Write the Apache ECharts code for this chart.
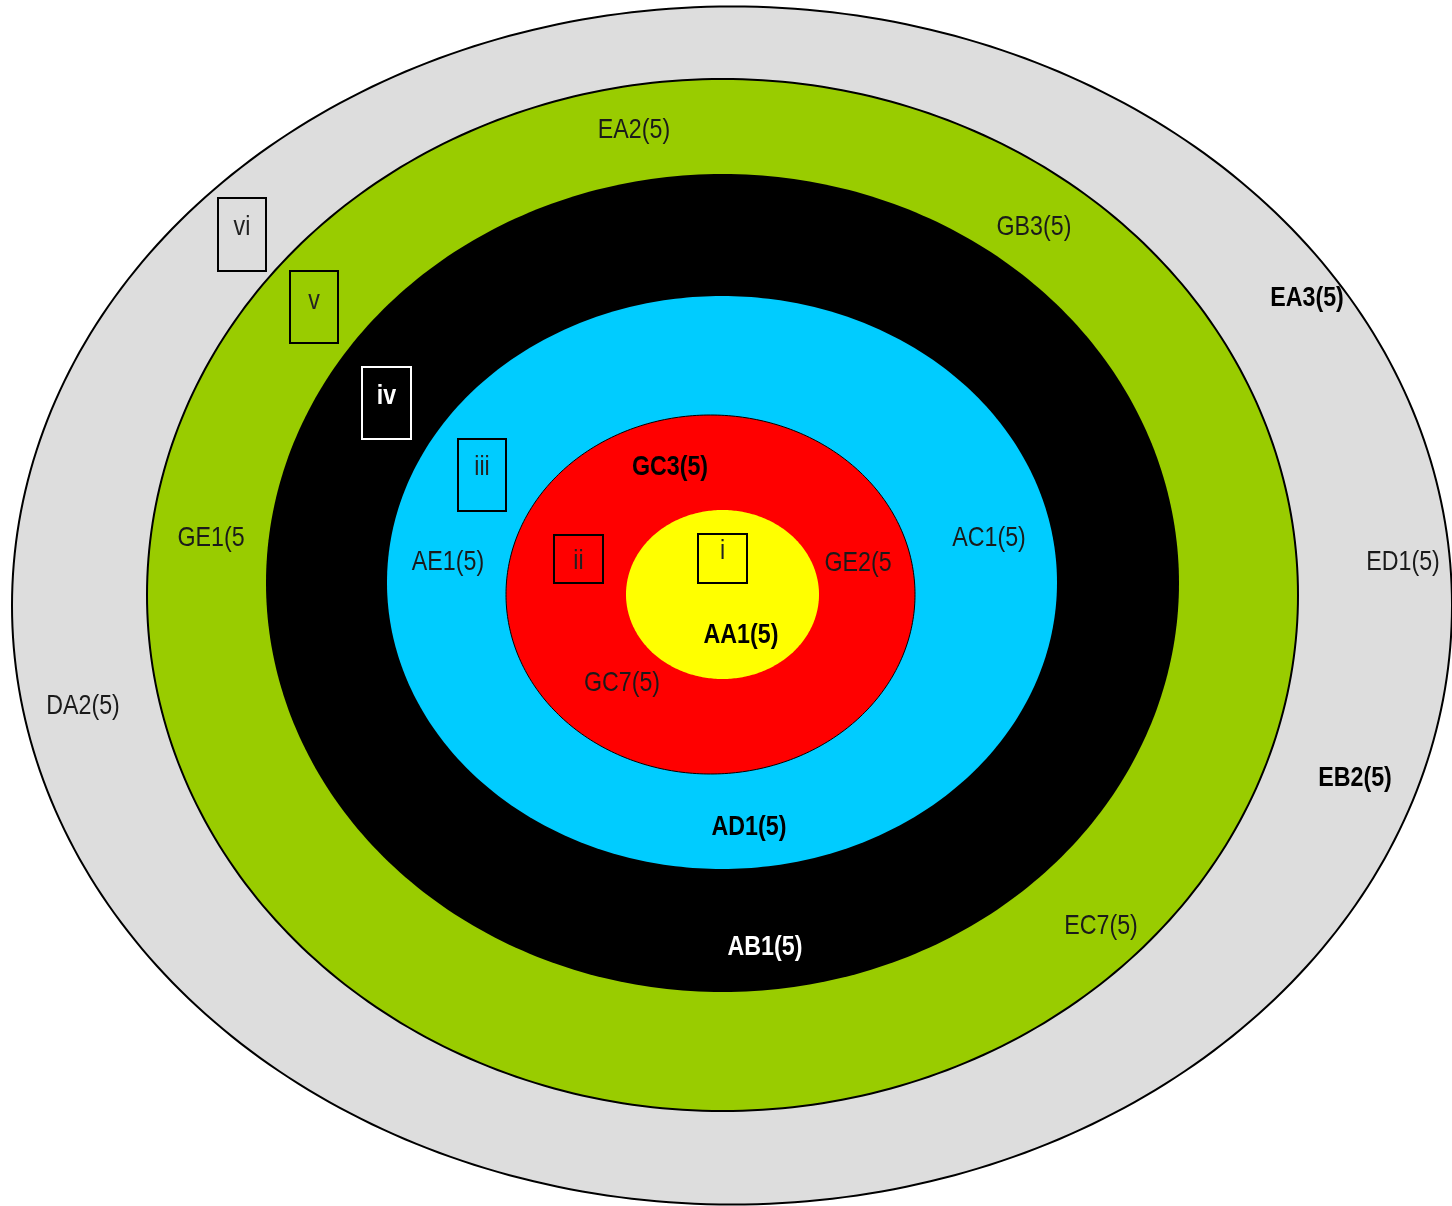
<!DOCTYPE html>
<html>
<head>
<meta charset="utf-8">
<script src="https://cdn.jsdelivr.net/npm/echarts@6/dist/echarts.min.js"></script>
<style>
  html, body { margin: 0; padding: 0; background: #fff; }
  #main { width: 1452px; height: 1206px; }
</style>
</head>
<body>
<div id="main"></div>
<script>
// rings, outermost first: centre and half-axes in page units
const ringNames = ['grey', 'green', 'black', 'blue', 'red', 'yellow'];
const ringCx = [732, 722.5, 722.5, 722, 710.5, 722.5];
const ringCy = [605.5, 595, 583, 582.5, 594.5, 594.5];
const ringRx = [720, 575.5, 456.5, 335, 204.5, 96.5];
const ringRy = [599, 516, 409, 286.5, 179.5, 84.5];
const ringFill = ['#dddddd', '#99cc00', '#000000', '#00ccff', '#ff0000', '#ffff00'];
const ringLine = [2, 2, 0, 0, 1, 0];

// ring labels
const labelText = ['EA2(5)', 'GB3(5)', 'EA3(5)', 'ED1(5)', 'EB2(5)', 'EC7(5)', 'GE1(5', 'DA2(5)',
    'AE1(5)', 'AC1(5)', 'GC3(5)', 'GE2(5', 'AA1(5)', 'GC7(5)', 'AD1(5)', 'AB1(5)'];
const labelX = [634, 1034, 1307, 1403, 1355, 1101, 211, 83, 448, 989, 670, 858, 741, 622, 749, 765];
const labelY = [130, 227, 298, 562, 778, 926, 538, 706, 562, 538, 467, 563, 635, 683, 827, 947];
const labelBold = [0, 0, 1, 0, 1, 0, 0, 0, 0, 0, 1, 0, 1, 0, 1, 1];
const labelWhite = [0, 0, 0, 0, 0, 0, 0, 0, 0, 0, 0, 0, 0, 0, 0, 1];

// numbered boxes i..vi
const boxText = ['i', 'ii', 'iii', 'iv', 'v', 'vi'];
const boxX1 = [698, 554, 458, 362, 290, 218];
const boxY1 = [534, 535, 439, 367, 271, 198];
const boxX2 = [747, 603, 506, 411, 338, 266];
const boxY2 = [583, 583, 511, 439, 343, 271];
const boxTextY = [551, 561, 467, 396, 301, 227];
const boxWhite = [0, 0, 0, 1, 0, 0];

const FONT = "'Liberation Sans', Arial, sans-serif";
const NARROW = 0.83;

var myChart = echarts.init(document.getElementById('main'));

function renderRing(params, api) {
    const i = params.dataIndex;
    const cx = api.value(0), cy = api.value(1), rx = api.value(2), ry = api.value(3);
    const pts = [];
    for (let k = 0; k < 360; k++) {
        const a = k * Math.PI / 180;
        pts.push(api.coord([cx + rx * Math.cos(a), cy + ry * Math.sin(a)]));
    }
    return {
        type: 'polygon',
        shape: { points: pts },
        style: {
            fill: ringFill[i],
            stroke: ringLine[i] ? '#000' : null,
            lineWidth: ringLine[i]
        }
    };
}

function narrowText(pos, text, bold, color) {
    return {
        type: 'text',
        x: pos[0],
        y: pos[1],
        scaleX: NARROW,
        style: {
            text: text,
            fill: color,
            font: (bold ? 'bold ' : '') + '28px ' + FONT,
            align: 'center',
            verticalAlign: 'middle'
        }
    };
}

function renderBox(params, api) {
    const i = params.dataIndex;
    const p1 = api.coord([api.value(0), api.value(1)]);
    const p2 = api.coord([api.value(2), api.value(3)]);
    const pt = api.coord([(api.value(0) + api.value(2)) / 2, api.value(4)]);
    const col = boxWhite[i] ? '#ffffff' : '#000000';
    return {
        type: 'group',
        children: [{
            type: 'rect',
            shape: { x: p1[0], y: p1[1], width: p2[0] - p1[0], height: p2[1] - p1[1] },
            style: { fill: null, stroke: col, lineWidth: 2 }
        }, narrowText(pt, boxText[i], boxWhite[i], boxWhite[i] ? '#ffffff' : '#222222')]
    };
}

function renderLabel(params, api) {
    const i = params.dataIndex;
    const p = api.coord([api.value(0), api.value(1)]);
    const color = labelWhite[i] ? '#ffffff' : (labelBold[i] ? '#000000' : '#1a1a1a');
    return narrowText(p, labelText[i], labelBold[i], color);
}

myChart.setOption({
    animation: false,
    grid: { left: 0, right: 0, top: 0, bottom: 0 },
    xAxis: { type: 'value', min: 0, max: 1452, show: false },
    yAxis: { type: 'value', min: 0, max: 1206, inverse: true, show: false },
    series: [{
        type: 'custom',
        renderItem: renderRing,
        data: ringNames.map((n, i) => [ringCx[i], ringCy[i], ringRx[i], ringRy[i]]),
        silent: true
    }, {
        type: 'custom',
        renderItem: renderBox,
        data: boxText.map((t, i) => [boxX1[i], boxY1[i], boxX2[i], boxY2[i], boxTextY[i]]),
        silent: true
    }, {
        type: 'custom',
        renderItem: renderLabel,
        data: labelText.map((t, i) => [labelX[i], labelY[i]]),
        silent: true
    }]
});
</script>
</body>
</html>
